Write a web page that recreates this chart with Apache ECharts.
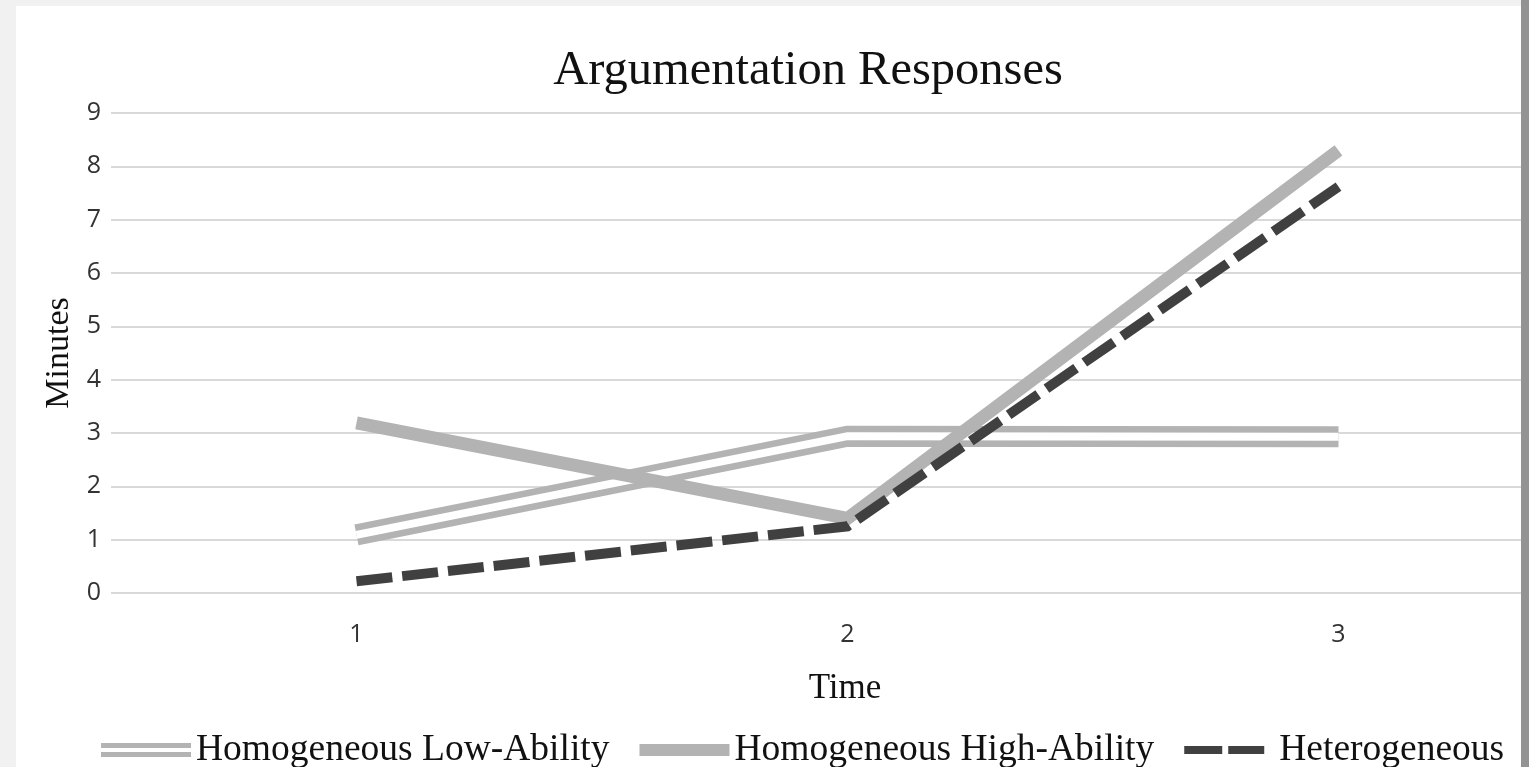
<!DOCTYPE html>
<html>
<head>
<meta charset="utf-8">
<script src="https://cdn.jsdelivr.net/npm/echarts@6/dist/echarts.min.js"></script>
<style>
html,body{margin:0;padding:0;background:#fff;}
#chart{width:1529px;height:767px;}
</style>
</head>
<body>
<div id="chart"></div>
<script>
const categories = ['1', '2', '3'];
const lowAbility = [1.09, 2.94, 2.93];
const highAbility = [3.19, 1.4, 8.3];
const heterogeneous = [0.22, 1.25, 7.62];
const seriesNames = ['Homogeneous Low-Ability', 'Homogeneous High-Ability', 'Heterogeneous'];

const serif = '"Liberation Serif", "DejaVu Serif", serif';
const sans = '"Open Sans", "Noto Sans", sans-serif';

const catPos = categories.map(Number);
const toPairs = (vals) => vals.map((v, i) => [catPos[i], v]);

const chart = echarts.init(document.getElementById('chart'), null, {renderer: 'canvas'});
chart.setOption({
  animation: false,
  backgroundColor: '#ffffff',
  title: {
    text: 'Argumentation Responses',
    left: 803,
    textAlign: 'center',
    top: 42,
    textStyle: {fontFamily: serif, fontSize: 48.5, fontWeight: 'normal', color: '#111'}
  },
  grid: {left: 111, top: 113, right: 0, height: 480},
  xAxis: {
    type: 'value',
    min: 0.5,
    max: 0.5 + 1418 / 491,
    axisLine: {show: false},
    axisTick: {show: false},
    splitLine: {show: false},
    axisLabel: {
      fontFamily: sans, fontSize: 25, color: '#333', margin: 29,
      customValues: catPos,
      formatter: (v) => categories[catPos.indexOf(v)] || ''
    },
    name: 'Time',
    nameLocation: 'middle',
    nameGap: 78,
    nameTextStyle: {fontFamily: serif, fontSize: 35, color: '#111', padding: [0, 0, 0, 50]}
  },
  yAxis: {
    type: 'value',
    min: 0, max: 9, interval: 1,
    axisLine: {show: false},
    axisTick: {show: false},
    axisLabel: {fontFamily: sans, fontSize: 25, color: '#333', margin: 10},
    splitLine: {lineStyle: {color: '#d9d9d9', width: 2}},
    name: 'Minutes',
    nameLocation: 'middle',
    nameGap: 30,
    nameTextStyle: {fontFamily: serif, fontSize: 34, color: '#111'}
  },
  legend: {
    left: 96,
    top: 726,
    itemWidth: 90,
    itemHeight: 14,
    itemGap: 30,
    symbolKeepAspect: false,
    textStyle: {fontFamily: serif, fontSize: 37.5, color: '#111'},
    data: [
      {name: seriesNames[0], icon: 'path://M0,0H90V5H0Z M0,9H90V14H0Z', itemStyle: {color: '#b3b3b3', borderWidth: 0}},
      {name: seriesNames[1], icon: 'path://M0,0M90,14M0,1H90V13H0Z', itemStyle: {color: '#b3b3b3', borderWidth: 0}},
      {name: seriesNames[2], icon: 'path://M0,0M90,14M0,3H38V11H0Z M44,3H80V11H44Z', itemStyle: {color: '#404040', borderWidth: 0}}
    ]
  },
  graphic: [
    {type: 'rect', z: 100, silent: true, shape: {x: 0, y: 0, width: 16, height: 767}, style: {fill: '#f1f1f1'}},
    {type: 'rect', z: 100, silent: true, shape: {x: 0, y: 0, width: 1529, height: 6}, style: {fill: '#f1f1f1'}},
    {type: 'rect', z: 100, silent: true, shape: {x: 1521, y: 0, width: 8, height: 767}, style: {fill: '#939393'}}
  ],
  series: [
    {
      name: seriesNames[0], type: 'line', data: toPairs(lowAbility), symbol: 'none', z: 2,
      itemStyle: {color: '#b3b3b3'},
      lineStyle: {color: '#b3b3b3', width: 21, join: 'miter', cap: 'butt'},
      emphasis: {disabled: true}
    },
    {
      name: 'lowInner', type: 'line', data: toPairs(lowAbility), symbol: 'none', z: 3, silent: true,
      lineStyle: {color: '#ffffff', width: 8, join: 'miter', cap: 'butt'},
      emphasis: {disabled: true}
    },
    {
      name: seriesNames[1], type: 'line', data: toPairs(highAbility), symbol: 'none', z: 4,
      itemStyle: {color: '#b3b3b3'},
      lineStyle: {color: '#b3b3b3', width: 13, join: 'miter', cap: 'butt'},
      emphasis: {disabled: true}
    },
    {
      name: seriesNames[2], type: 'line', data: toPairs(heterogeneous), symbol: 'none', z: 5,
      itemStyle: {color: '#404040'},
      lineStyle: {color: '#404040', width: 10, type: [36, 10], join: 'miter', cap: 'butt'},
      emphasis: {disabled: true}
    }
  ]
});
</script>
</body>
</html>
